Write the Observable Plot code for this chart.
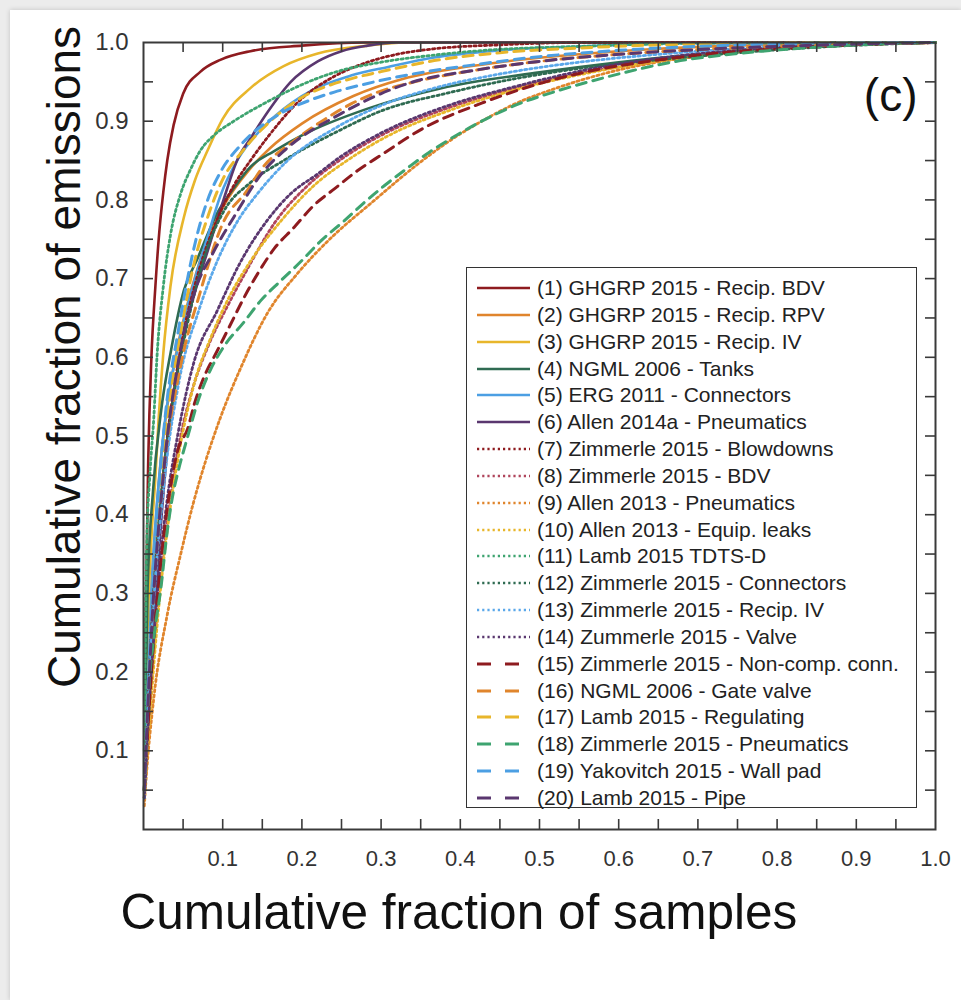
<!DOCTYPE html>
<html><head><meta charset="utf-8">
<script src="https://cdn.jsdelivr.net/npm/d3@7"></script>
<script src="https://cdn.jsdelivr.net/npm/@observablehq/plot@0.6"></script>
<style>
html,body{margin:0;padding:0;background:#ececec;width:961px;height:1000px;overflow:hidden;}
#card{position:absolute;left:10px;top:10px;width:951px;height:990px;background:#fff;box-shadow:0 0 5px rgba(0,0,0,0.18);}
#chart{position:absolute;left:0;top:0;width:961px;height:1000px;}
#legend{position:absolute;left:466px;top:267px;width:451px;height:541px;border:1.6px solid #333;background:#fff;box-sizing:border-box;font-family:"Liberation Sans",Arial,sans-serif;font-size:21px;color:#222;}
.row{position:absolute;left:0;height:26px;display:flex;align-items:center;white-space:nowrap;}
.row svg{margin-left:10px;margin-right:7px;}
</style></head><body>
<div id="card"></div>
<div id="chart"></div>
<script>
// ---- Data ----
const seriesNames = [
  "(1) GHGRP 2015 - Recip. BDV",
  "(2) GHGRP 2015 - Recip. RPV",
  "(3) GHGRP 2015 - Recip. IV",
  "(4) NGML 2006 - Tanks",
  "(5) ERG 2011 - Connectors",
  "(6) Allen 2014a - Pneumatics",
  "(7) Zimmerle 2015 - Blowdowns",
  "(8) Zimmerle 2015 - BDV",
  "(9) Allen 2013 - Pneumatics",
  "(10) Allen 2013 - Equip. leaks",
  "(11) Lamb 2015 TDTS-D",
  "(12) Zimmerle 2015 - Connectors",
  "(13) Zimmerle 2015 - Recip. IV",
  "(14) Zummerle 2015 - Valve",
  "(15) Zimmerle 2015 - Non-comp. conn.",
  "(16) NGML 2006 - Gate valve",
  "(17) Lamb 2015 - Regulating",
  "(18) Zimmerle 2015 - Pneumatics",
  "(19) Yakovitch 2015 - Wall pad",
  "(20) Lamb 2015 - Pipe"
];
const seriesStyles = ["solid","solid","solid","solid","solid","solid",
  "dotted","dotted","dotted","dotted","dotted","dotted","dotted","dotted",
  "dashed","dashed","dashed","dashed","dashed","dashed"];
const seriesColors = ["#8E1B1F","#E0852C","#E8B62B","#2F6B52","#4C9FE3","#5A376F",
  "#8E1B1F","#B0455C","#E0852C","#E8B62B","#3EA470","#2F6B52","#5BA8EA","#5A376F",
  "#8E1B1F","#E0852C","#E8B62B","#3EA470","#4C9FE3","#5A376F"];

// [cumulative fraction of samples, cumulative fraction of emissions]
const s01 = [[0.001,0.05],[0.003,0.28],[0.006,0.47],[0.01,0.6],[0.015,0.69],[0.02,0.76],[0.025,0.81],[0.03,0.85],[0.038,0.895],[0.05,0.935],[0.072,0.963],[0.097,0.978],[0.135,0.989],[0.2,0.996],[0.28,1],[1,1]];
const s02 = [[0.001,0.05],[0.01,0.3],[0.02,0.45],[0.035,0.57],[0.05,0.645],[0.072,0.725],[0.1,0.79],[0.135,0.84],[0.16,0.866],[0.2,0.897],[0.265,0.932],[0.325,0.953],[0.376,0.964],[0.45,0.975],[0.55,0.985],[0.65,0.992],[0.75,0.996],[0.85,0.998],[1,1]];
const s03 = [[0.001,0.05],[0.005,0.25],[0.01,0.37],[0.015,0.447],[0.019,0.52],[0.025,0.605],[0.034,0.69],[0.051,0.778],[0.065,0.825],[0.081,0.863],[0.1,0.903],[0.135,0.942],[0.177,0.97],[0.22,0.986],[0.283,0.996],[0.33,1],[1,1]];
const s04 = [[0.001,0.05],[0.005,0.3],[0.012,0.43],[0.022,0.53],[0.035,0.61],[0.051,0.685],[0.068,0.725],[0.093,0.783],[0.114,0.815],[0.135,0.842],[0.165,0.862],[0.2,0.882],[0.283,0.916],[0.376,0.942],[0.5,0.962],[0.6,0.975],[0.7,0.985],[0.8,0.992],[0.9,0.997],[1,1]];
const s05 = [[0.001,0.05],[0.01,0.3],[0.025,0.5],[0.045,0.62],[0.065,0.7],[0.08,0.75],[0.097,0.805],[0.12,0.853],[0.157,0.898],[0.2,0.932],[0.262,0.958],[0.309,0.969],[0.367,0.981],[0.45,0.99],[0.55,0.995],[0.7,0.999],[1,1]];
const s06 = [[0.001,0.05],[0.01,0.2],[0.02,0.36],[0.034,0.52],[0.047,0.605],[0.056,0.65],[0.068,0.693],[0.081,0.735],[0.101,0.8],[0.119,0.852],[0.135,0.878],[0.157,0.912],[0.186,0.95],[0.22,0.976],[0.25,0.989],[0.283,0.996],[0.32,1],[1,1]];
const s07 = [[0.001,0.05],[0.01,0.25],[0.025,0.45],[0.045,0.6],[0.07,0.71],[0.093,0.775],[0.115,0.82],[0.135,0.85],[0.157,0.88],[0.199,0.928],[0.241,0.957],[0.283,0.975],[0.325,0.986],[0.367,0.992],[0.45,0.997],[0.55,1],[1,1]];
const s08 = [[0.001,0.04],[0.01,0.18],[0.02,0.3],[0.03,0.39],[0.045,0.49],[0.062,0.56],[0.082,0.615],[0.106,0.665],[0.13,0.71],[0.165,0.77],[0.207,0.818],[0.25,0.852],[0.3,0.882],[0.385,0.917],[0.469,0.942],[0.553,0.961],[0.658,0.977],[0.75,0.988],[0.85,0.995],[1,1]];
const s09 = [[0.001,0.03],[0.003,0.06],[0.013,0.167],[0.03,0.273],[0.047,0.35],[0.063,0.415],[0.072,0.447],[0.097,0.523],[0.123,0.587],[0.157,0.657],[0.194,0.706],[0.233,0.748],[0.291,0.799],[0.347,0.846],[0.385,0.874],[0.427,0.9],[0.469,0.922],[0.524,0.943],[0.562,0.955],[0.604,0.966],[0.667,0.978],[0.75,0.988],[0.85,0.995],[0.95,0.999],[1,1]];
const s10 = [[0.001,0.04],[0.01,0.17],[0.02,0.29],[0.03,0.38],[0.045,0.48],[0.065,0.57],[0.085,0.625],[0.11,0.68],[0.135,0.722],[0.175,0.775],[0.215,0.818],[0.26,0.852],[0.31,0.882],[0.39,0.915],[0.47,0.94],[0.56,0.961],[0.66,0.978],[0.75,0.988],[0.85,0.995],[1,1]];
const s11 = [[0.001,0.1],[0.004,0.36],[0.008,0.45],[0.013,0.523],[0.017,0.6],[0.025,0.69],[0.034,0.755],[0.047,0.808],[0.06,0.84],[0.072,0.863],[0.09,0.883],[0.114,0.9],[0.157,0.925],[0.199,0.946],[0.241,0.962],[0.3,0.975],[0.367,0.984],[0.43,0.99],[0.55,0.995],[0.7,0.999],[1,1]];
const s12 = [[0.001,0.04],[0.01,0.25],[0.02,0.4],[0.035,0.53],[0.055,0.64],[0.081,0.74],[0.101,0.785],[0.135,0.822],[0.177,0.85],[0.241,0.885],[0.3,0.913],[0.385,0.936],[0.469,0.954],[0.55,0.967],[0.65,0.978],[0.75,0.987],[0.85,0.994],[1,1]];
const s13 = [[0.001,0.04],[0.01,0.24],[0.025,0.43],[0.045,0.57],[0.07,0.66],[0.093,0.722],[0.12,0.775],[0.144,0.808],[0.182,0.85],[0.24,0.89],[0.3,0.92],[0.367,0.942],[0.45,0.96],[0.55,0.975],[0.65,0.985],[0.75,0.992],[0.85,0.997],[1,1]];
const s14 = [[0.001,0.04],[0.01,0.2],[0.02,0.33],[0.03,0.42],[0.043,0.5],[0.064,0.595],[0.093,0.659],[0.123,0.722],[0.157,0.775],[0.186,0.808],[0.22,0.833],[0.249,0.855],[0.3,0.885],[0.385,0.92],[0.469,0.944],[0.553,0.964],[0.658,0.981],[0.75,0.99],[0.85,0.996],[1,1]];
const s15 = [[0.001,0.05],[0.01,0.2],[0.02,0.32],[0.043,0.481],[0.056,0.51],[0.064,0.54],[0.076,0.574],[0.093,0.608],[0.11,0.642],[0.127,0.676],[0.144,0.706],[0.165,0.738],[0.19,0.765],[0.215,0.793],[0.241,0.814],[0.27,0.837],[0.3,0.857],[0.355,0.892],[0.427,0.923],[0.494,0.946],[0.57,0.965],[0.638,0.976],[0.72,0.986],[0.82,0.993],[0.92,0.998],[1,1]];
const s16 = [[0.001,0.05],[0.01,0.25],[0.025,0.45],[0.045,0.58],[0.072,0.684],[0.1,0.77],[0.131,0.812],[0.148,0.838],[0.19,0.875],[0.233,0.905],[0.262,0.922],[0.296,0.937],[0.342,0.95],[0.42,0.965],[0.5,0.976],[0.6,0.985],[0.7,0.991],[0.8,0.995],[0.9,0.998],[1,1]];
const s17 = [[0.001,0.05],[0.01,0.28],[0.025,0.48],[0.045,0.62],[0.064,0.72],[0.081,0.778],[0.101,0.828],[0.125,0.862],[0.16,0.9],[0.203,0.932],[0.233,0.945],[0.266,0.955],[0.309,0.965],[0.367,0.977],[0.45,0.987],[0.55,0.993],[0.7,0.998],[1,1]];
const s18 = [[0.001,0.05],[0.006,0.167],[0.013,0.243],[0.022,0.307],[0.03,0.379],[0.038,0.43],[0.043,0.452],[0.056,0.5],[0.07,0.548],[0.085,0.585],[0.101,0.613],[0.127,0.645],[0.148,0.672],[0.173,0.697],[0.199,0.722],[0.224,0.748],[0.253,0.773],[0.278,0.796],[0.304,0.818],[0.334,0.841],[0.36,0.86],[0.385,0.876],[0.427,0.9],[0.469,0.92],[0.524,0.939],[0.562,0.95],[0.604,0.961],[0.667,0.975],[0.75,0.986],[0.85,0.994],[0.95,0.999],[1,1]];
const s19 = [[0.001,0.05],[0.01,0.28],[0.025,0.5],[0.045,0.64],[0.064,0.74],[0.081,0.8],[0.097,0.835],[0.123,0.87],[0.17,0.908],[0.211,0.927],[0.241,0.937],[0.283,0.948],[0.34,0.96],[0.42,0.972],[0.5,0.982],[0.6,0.99],[0.7,0.995],[0.85,0.999],[1,1]];
const s20 = [[0.001,0.05],[0.01,0.25],[0.025,0.45],[0.045,0.6],[0.064,0.681],[0.089,0.735],[0.114,0.778],[0.152,0.837],[0.177,0.862],[0.25,0.91],[0.334,0.948],[0.42,0.965],[0.5,0.976],[0.6,0.985],[0.7,0.991],[0.8,0.995],[0.9,0.998],[1,1]];
const seriesPoints = [s01,s02,s03,s04,s05,s06,s07,s08,s09,s10,s11,s12,s13,s14,s15,s16,s17,s18,s19,s20];

const tickValues = [0.05,0.1,0.15,0.2,0.25,0.3,0.35,0.4,0.45,0.5,0.55,0.6,0.65,0.7,0.75,0.8,0.85,0.9,0.95];
const labelValues = [0.1,0.2,0.3,0.4,0.5,0.6,0.7,0.8,0.9,1.0];
const xTitle = "Cumulative fraction of samples";
const yTitle = "Cumulative fraction of emissions";
const panelTag = "(c)";

// ---- Build table ----
const rows = [];
seriesPoints.forEach((pts, i) => pts.forEach(([x, y]) => rows.push({series: seriesNames[i], style: seriesStyles[i], x, y})));

const dash = {solid: null, dotted: "2.2,3", dashed: "10,7"};
const widths = {solid: 2.6, dotted: 2.8, dashed: 3};
const lineMarks = ["solid","dotted","dashed"].map(st =>
  Plot.line(rows.filter(r => r.style === st), {
    x: "x", y: "y", z: "series", stroke: "series",
    strokeWidth: widths[st], strokeDasharray: dash[st], curve: "monotone-x"
  })
);

const W = 961, H = 1000, mL = 143, mR = 26, mT = 42, mB = 171;
const fw = W - mL - mR, fh = H - mT - mB, tl = 10;
const axisColor = "#3a3a3a";

const chart = Plot.plot({
  width: W, height: H,
  marginLeft: mL, marginRight: mR, marginTop: mT, marginBottom: mB,
  style: {background: "transparent", fontFamily: "'Liberation Sans', Arial, sans-serif", color: "#222"},
  x: {domain: [0, 1]},
  y: {domain: [0, 1]},
  color: {type: "ordinal", domain: seriesNames, range: seriesColors},
  marks: [
    ...lineMarks,
    Plot.tickY(tickValues, {y: d => d, insetRight: fw - tl, stroke: axisColor, strokeWidth: 1.6}),
    Plot.tickY(tickValues, {y: d => d, insetLeft: fw - tl, stroke: axisColor, strokeWidth: 1.6}),
    Plot.tickX(tickValues, {x: d => d, insetTop: fh - tl, stroke: axisColor, strokeWidth: 1.6}),
    Plot.tickX(tickValues, {x: d => d, insetBottom: fh - tl, stroke: axisColor, strokeWidth: 1.6}),
    Plot.frame({stroke: axisColor, strokeWidth: 2}),
    Plot.axisY({ticks: labelValues, anchor: "left", tickSize: 0, tickPadding: 15, fontSize: 24, label: null, tickFormat: d => d.toFixed(1), fill: "#333"}),
    Plot.axisX({ticks: labelValues, anchor: "bottom", tickSize: 0, tickPadding: 21, fontSize: 22, label: null, tickFormat: d => d.toFixed(1), fill: "#333"}),
    Plot.text([yTitle], {text: d => d, frameAnchor: "left", textAnchor: "middle", lineAnchor: "middle", rotate: -90, dx: -78, dy: -79, fontSize: 46, fill: "#111"}),
    Plot.text([xTitle], {text: d => d, frameAnchor: "bottom-left", textAnchor: "start", lineAnchor: "middle", dx: -23, dy: 84, fontSize: 49.5, fill: "#111"}),
    Plot.text([panelTag], {text: d => d, frameAnchor: "top-right", textAnchor: "end", lineAnchor: "middle", dx: -18, dy: 54, fontSize: 46, fill: "#111"})
  ]
});
document.getElementById("chart").appendChild(chart);

// ---- Legend (inside the axes) ----
const legend = document.createElement("div");
legend.id = "legend";
seriesNames.forEach((name, i) => {
  const row = document.createElement("div");
  row.className = "row";
  row.style.top = (7 + i * 26.84) + "px";
  const st = seriesStyles[i];
  const ns = "http://www.w3.org/2000/svg";
  const svg = document.createElementNS(ns, "svg");
  svg.setAttribute("width", 53); svg.setAttribute("height", 10);
  const ln = document.createElementNS(ns, "line");
  ln.setAttribute("x1", 0); ln.setAttribute("x2", 53); ln.setAttribute("y1", 5); ln.setAttribute("y2", 5);
  ln.setAttribute("stroke", seriesColors[i]);
  ln.setAttribute("stroke-width", st === "dashed" ? 3.2 : 2.6);
  if (st === "dotted") ln.setAttribute("stroke-dasharray", "2.2,3");
  if (st === "dashed") { ln.setAttribute("stroke-dasharray", "14,14"); ln.setAttribute("x2", 43); }
  svg.appendChild(ln);
  const tx = document.createElement("span");
  tx.textContent = name;
  row.appendChild(svg); row.appendChild(tx);
  legend.appendChild(row);
});
document.body.appendChild(legend);
</script>
</body></html>
